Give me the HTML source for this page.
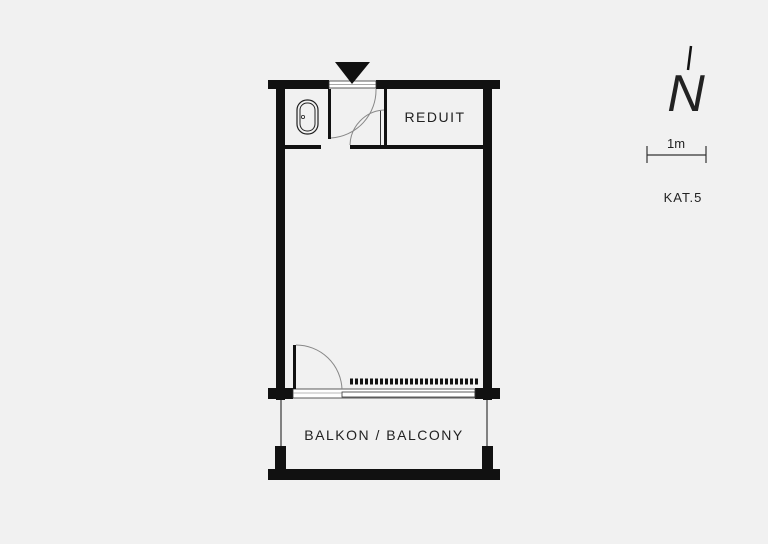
<!DOCTYPE html>
<html><head><meta charset="utf-8"><style>
html,body{margin:0;padding:0;background:#f1f1f1;}
svg{display:block;}
text{font-family:"Liberation Sans",sans-serif;fill:#222;}
</style></head><body>
<svg width="768" height="544" viewBox="0 0 768 544" xmlns="http://www.w3.org/2000/svg">
<rect width="768" height="544" fill="#f1f1f1"/>
<!-- top wall -->
<rect x="268" y="80" width="61" height="9" fill="#111"/>
<rect x="376" y="80" width="124" height="9" fill="#111"/>
<rect x="329" y="81" width="47" height="7" fill="#fff" stroke="#333" stroke-width="0.8"/>
<line x1="329" y1="84.5" x2="376" y2="84.5" stroke="#555" stroke-width="0.6"/>
<polygon points="335,62 370,62 352,84" fill="#111"/>
<!-- side walls -->
<rect x="276" y="80" width="9" height="320" fill="#111"/>
<rect x="483" y="80" width="9" height="320" fill="#111"/>
<!-- bathroom -->
<rect x="328" y="89" width="3" height="50" fill="#111"/>
<rect x="285" y="145" width="36" height="4" fill="#111"/>
<rect x="350" y="145" width="135" height="4" fill="#111"/>
<rect x="384" y="89" width="3" height="58" fill="#111"/>
<line x1="380.5" y1="110" x2="380.5" y2="145" stroke="#333" stroke-width="1"/>
<rect x="297" y="100" width="21" height="34" rx="10" fill="none" stroke="#222" stroke-width="1.2"/>
<rect x="300" y="103" width="15" height="28" rx="7" fill="none" stroke="#222" stroke-width="1"/>
<circle cx="303" cy="117" r="1.6" fill="none" stroke="#222" stroke-width="0.8"/>
<path d="M331,138 A48,48 0 0 0 376,89" fill="none" stroke="#888" stroke-width="1"/>
<path d="M350,145 A36,36 0 0 1 384,110" fill="none" stroke="#888" stroke-width="1"/>
<!-- bottom wall / window -->
<rect x="268" y="388" width="25" height="11" fill="#111"/>
<rect x="475" y="388" width="25" height="11" fill="#111"/>
<rect x="293" y="389" width="182" height="9" fill="#fff" stroke="#333" stroke-width="0.8"/>
<rect x="342" y="392" width="133" height="5" fill="none" stroke="#333" stroke-width="0.8"/>
<line x1="293" y1="393" x2="342" y2="393" stroke="#777" stroke-width="0.6"/>
<rect x="293" y="345" width="3" height="44" fill="#111"/>
<path d="M296,345 A46,46 0 0 1 342,389" fill="none" stroke="#888" stroke-width="1"/>
<line x1="350" y1="381.5" x2="478" y2="381.5" stroke="#111" stroke-width="6" stroke-dasharray="3,2"/>
<!-- balcony -->
<line x1="281" y1="399" x2="281" y2="446" stroke="#111" stroke-width="1"/>
<line x1="487" y1="399" x2="487" y2="446" stroke="#111" stroke-width="1"/>
<rect x="275" y="446" width="11" height="24" fill="#111"/>
<rect x="482" y="446" width="11" height="24" fill="#111"/>
<rect x="268" y="469" width="232" height="11" fill="#111"/>
<text x="435" y="122" font-size="14" letter-spacing="1.5" text-anchor="middle">REDUIT</text>
<text x="384" y="440" font-size="14" letter-spacing="1.5" text-anchor="middle">BALKON / BALCONY</text>
<!-- north -->
<text x="686" y="111" font-size="52" font-style="italic" text-anchor="middle" fill="#111">N</text>
<line x1="691" y1="46" x2="688" y2="70" stroke="#111" stroke-width="2.5"/>
<line x1="647" y1="155" x2="706" y2="155" stroke="#333" stroke-width="1.2"/>
<line x1="647" y1="146" x2="647" y2="163" stroke="#333" stroke-width="1.2"/>
<line x1="706" y1="146" x2="706" y2="163" stroke="#333" stroke-width="1.2"/>
<text x="676" y="148" font-size="13" text-anchor="middle">1m</text>
<text x="683" y="202" font-size="13" letter-spacing="1" text-anchor="middle">KAT.5</text>
</svg>
</body></html>
